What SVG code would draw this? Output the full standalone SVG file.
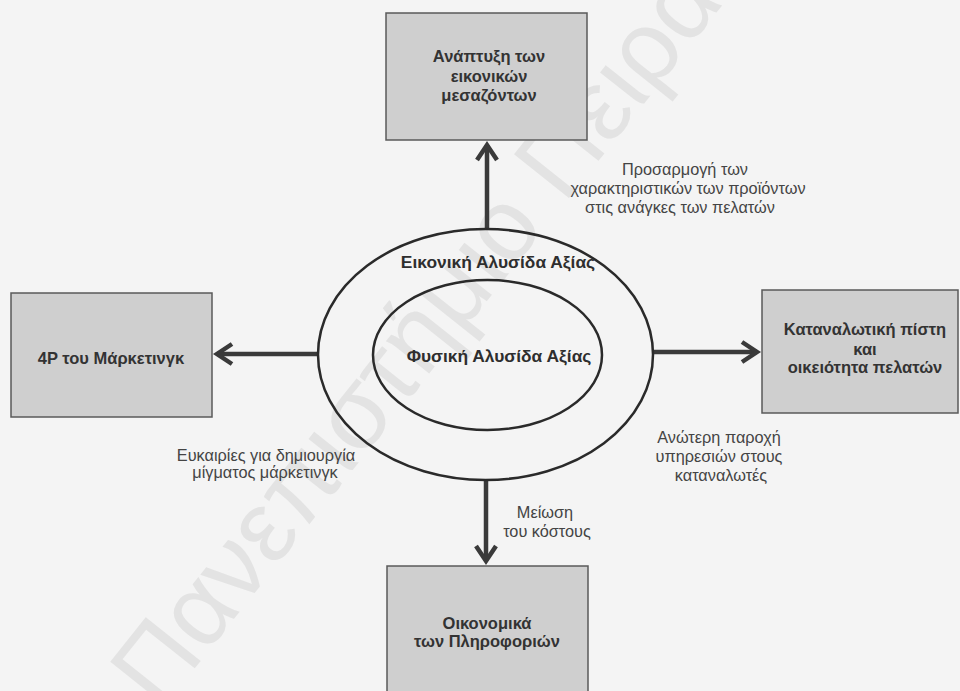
<svg xmlns="http://www.w3.org/2000/svg" width="960" height="691" viewBox="0 0 960 691">
<defs>
<style>
.box{fill:#cfcfcf;stroke:#5a5a5a;stroke-width:1.5}
.bt{font-family:"Liberation Sans",Arial,sans-serif;font-weight:bold;font-size:16.5px;fill:#333;text-anchor:middle}
.lbl{font-family:"Liberation Sans",Arial,sans-serif;font-size:16.3px;fill:#444;text-anchor:middle}
.el{font-family:"Liberation Sans",Arial,sans-serif;font-weight:bold;font-size:17.4px;fill:#2e2e2e;text-anchor:middle}
.ell{fill:none;stroke:#2a2a2a;stroke-width:2.5}
.conn{fill:none;stroke:#3a3a3a;stroke-width:4.5;marker-end:url(#arr)}
.wm{font-family:"Liberation Sans",Arial,sans-serif;font-size:102px;fill:#e3e3e3}
</style>
<marker id="arr" markerUnits="userSpaceOnUse" markerWidth="40" markerHeight="40" viewBox="-20 -20 40 40" refX="0" refY="0" orient="auto" overflow="visible">
<path d="M-15,-10 L0,0 L-15,10" fill="none" stroke="#3a3a3a" stroke-width="4.5" stroke-linejoin="miter"/>
</marker>
</defs>
<rect width="960" height="691" fill="#f4f4f4"/>
<text class="wm" transform="translate(160,712) rotate(-51.5)">Πανεπιστήμιο Πειραιώς</text>

<g id="connectors">
<path class="conn" d="M487,229 L487,145"/>
<path class="conn" d="M318,354 L217,354"/>
<path class="conn" d="M653,352 L757,352"/>
<path class="conn" d="M486,480 L486,561"/>
</g>

<g id="virtual-chain">
<ellipse class="ell" cx="485.5" cy="354.5" rx="167.5" ry="125.5"/>
<text class="el" x="498" y="268">Εικονική Αλυσίδα Αξίας</text>
</g>
<g id="physical-chain">
<ellipse class="ell" cx="487.5" cy="355" rx="114.5" ry="75"/>
<text class="el" x="499" y="362">Φυσική Αλυσίδα Αξίας</text>
</g>

<g id="node-top">
<rect class="box" x="386" y="13" width="201" height="127"/>
<text class="bt" x="489" y="62">Ανάπτυξη των</text>
<text class="bt" x="489" y="82">εικονικών</text>
<text class="bt" x="489" y="101">μεσαζόντων</text>
</g>
<g id="node-left">
<rect class="box" x="11" y="293" width="201" height="124"/>
<text class="bt" x="111" y="364">4P του Μάρκετινγκ</text>
</g>
<g id="node-right">
<rect class="box" x="762" y="290" width="196" height="123"/>
<text class="bt" x="865" y="335">Καταναλωτική πίστη</text>
<text class="bt" x="865" y="355">και</text>
<text class="bt" x="865" y="373">οικειότητα πελατών</text>
</g>
<g id="node-bottom">
<rect class="box" x="387" y="566" width="201" height="126"/>
<text class="bt" x="487" y="629">Οικονομικά</text>
<text class="bt" x="487" y="647">των Πληροφοριών</text>
</g>

<g id="labels">
<text class="lbl" x="685" y="175">Προσαρμογή των</text>
<text class="lbl" x="688" y="194">χαρακτηριστικών των προϊόντων</text>
<text class="lbl" x="680" y="213">στις ανάγκες των πελατών</text>
<text class="lbl" x="266" y="461">Ευκαιρίες για δημιουργία</text>
<text class="lbl" x="265" y="478">μίγματος μάρκετινγκ</text>
<text class="lbl" x="719" y="443">Ανώτερη παροχή</text>
<text class="lbl" x="719" y="462">υπηρεσιών στους</text>
<text class="lbl" x="721" y="481">καταναλωτές</text>
<text class="lbl" x="545" y="518">Μείωση</text>
<text class="lbl" x="547" y="537">του κόστους</text>
</g>
</svg>
